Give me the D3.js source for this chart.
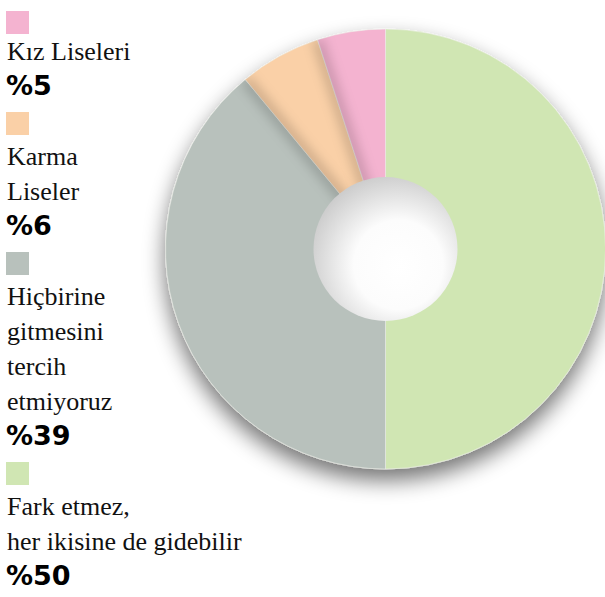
<!DOCTYPE html>
<html>
<head>
<meta charset="utf-8">
<script src="https://cdn.jsdelivr.net/npm/d3@7"></script>
<style>
  html, body { margin: 0; padding: 0; background: #fff; }
  svg { display: block; }
</style>
</head>
<body>
<div class="chart"></div>
<script>
// legend order (top to bottom)
const categories = ["Kız Liseleri", "Karma Liseler", "Hiçbirine gitmesini tercih etmiyoruz", "Fark etmez, her ikisine de gidebilir"];
const labelLines = [
  ["Kız Liseleri"],
  ["Karma", "Liseler"],
  ["Hiçbirine", "gitmesini", "tercih", "etmiyoruz"],
  ["Fark etmez,", "her ikisine de gidebilir"]
];
const values = [5, 6, 39, 50];
const colors = ["#f4b3d0", "#fad0a7", "#b8c1bc", "#d0e6b3"];

let width = 605, height = 597;
let cx = 385.5, cy = 249, outerR = 220, innerR = 72;
let serif = "'Liberation Serif', 'Times New Roman', Times, 'DejaVu Serif', serif";

let svg = d3.select(".chart").append("svg").attr("width", width).attr("height", height);

let defs = svg.append("defs");

let shadow = defs.append("filter").attr("id", "drop")
    .attr("x", "-30%").attr("y", "-30%").attr("width", "160%").attr("height", "160%");
shadow.append("feGaussianBlur").attr("in", "SourceAlpha").attr("stdDeviation", 11);
shadow.append("feOffset").attr("dx", 0).attr("dy", 11).attr("result", "off");
shadow.append("feComponentTransfer").append("feFuncA").attr("type", "linear").attr("slope", 0.55);
let merge = shadow.append("feMerge");
merge.append("feMergeNode");
merge.append("feMergeNode").attr("in", "SourceGraphic");

let soft = defs.append("filter").attr("id", "soft")
    .attr("x", "-20%").attr("y", "-20%").attr("width", "140%").attr("height", "140%");
soft.append("feGaussianBlur").attr("stdDeviation", 6);

let hole = defs.append("radialGradient").attr("id", "hole")
    .attr("cx", "58%").attr("cy", "60%").attr("r", "62%").attr("fx", "60%").attr("fy", "62%");
hole.append("stop").attr("offset", "0%").attr("stop-color", "#ffffff");
hole.append("stop").attr("offset", "50%").attr("stop-color", "#fcfcfc");
hole.append("stop").attr("offset", "100%").attr("stop-color", "#cdcdcd");

// pie goes clockwise from 12 o'clock: green, grey, orange, pink
let order = [3, 2, 1, 0];

let pie = d3.pie().sort(null).value(i => values[i]);
let arcs = pie(order);

let arc = d3.arc().innerRadius(0).outerRadius(outerR);

let g = svg.append("g").attr("transform", `translate(${cx},${cy})`);

g.append("clipPath").attr("id", "donutClip")
  .append("circle").attr("r", outerR);

let donut = g.append("g").attr("filter", "url(#drop)");

donut.selectAll("path.slice")
  .data(arcs)
  .enter().append("path")
  .attr("class", "slice")
  .attr("d", arc)
  .attr("fill", d => colors[d.data])
  .attr("stroke", "#eef0ea")
  .attr("stroke-width", 0.6);

// soft shading along the slice boundaries
let shade = g.append("g").attr("clip-path", "url(#donutClip)");

shade.selectAll("line")
  .data(arcs)
  .enter().append("line")
  .attr("x1", 0).attr("y1", 0)
  .attr("x2", d => outerR * Math.sin(d.startAngle))
  .attr("y2", d => -outerR * Math.cos(d.startAngle))
  .attr("stroke", "#000")
  .attr("stroke-opacity", 0.2)
  .attr("stroke-width", 10)
  .attr("filter", "url(#soft)");

g.append("circle")
  .attr("r", innerR)
  .attr("fill", "url(#hole)");

// legend
let legend = svg.append("g").attr("class", "legend");
let y = 11;
let lineH = 35;

categories.forEach((c, i) => {
  legend.append("rect")
    .attr("x", 6).attr("y", y)
    .attr("width", 23).attr("height", 23)
    .attr("fill", colors[i]);

  let base = y + (i === 0 ? 49 : 53);
  labelLines[i].forEach((t, j) => {
    legend.append("text")
      .attr("x", 7).attr("y", base + j * lineH)
      .attr("font-family", serif)
      .attr("font-size", 26)
      .attr("fill", "#111")
      .text(t);
  });
  let pctY = base + labelLines[i].length * lineH;
  legend.append("text")
    .attr("x", 6).attr("y", pctY)
    .attr("font-family", "'DejaVu Sans', sans-serif")
    .attr("font-weight", "bold")
    .attr("font-size", 27)
    .attr("fill", "#000")
    .text("%" + values[i]);

  y = pctY + 17;
});
</script>
</body>
</html>
